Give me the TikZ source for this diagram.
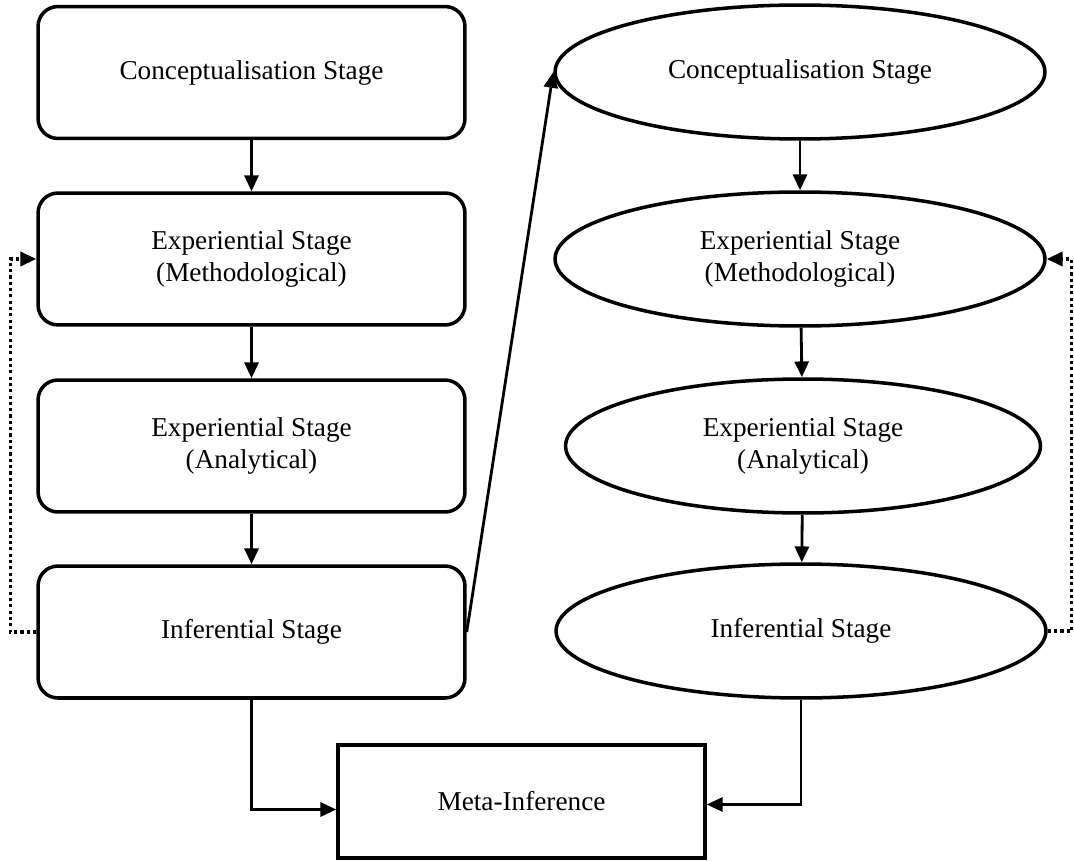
\documentclass[tikz,border=0pt]{standalone}
\usepackage{fontspec}
\setmainfont{Liberation Serif}
\usetikzlibrary{shapes.geometric,arrows.meta}

\begin{document}
\begin{tikzpicture}[x=0.02cm,y=-0.02cm,
  >={Triangle[length=9pt,width=8pt]},
  every node/.style={font=\fontsize{15.5}{18.7}\selectfont,align=center},
  stagebox/.style={draw,line width=2pt,rounded corners=0.4cm,minimum width=8.54cm,minimum height=2.64cm},
  stageoval/.style={draw,ellipse,line width=2pt,minimum width=9.8cm,minimum height=2.68cm,inner sep=0pt},
  link/.style={line width=1.6pt},
  back/.style={line width=1.8pt,dash pattern=on 1.8pt off 1.8pt}]
\useasboundingbox (0,0) rectangle (1074,861);
% Left column:
\node (Lconc) [stagebox] at (251.5,72.5) {Conceptualisation Stage};
\node (Lmeth) [stagebox] at (251.5,259) {Experiential Stage\\(Methodological)};
\node (Lanal) [stagebox] at (251.5,446) {Experiential Stage\\(Analytical)};
\node (Linf) [stagebox] at (251.5,632) {Inferential Stage};
% Right column:
\node (Rconc) [stageoval] at (800,72) {Conceptualisation Stage};
\node (Rmeth) [stageoval] at (800,259) {Experiential Stage\\(Methodological)};
\node (Ranal) [stageoval,minimum width=9.5cm] at (803,446) {Experiential Stage\\(Analytical)};
\node (Rinf) [stageoval] at (801,631) {Inferential Stage};
\node (Meta) [draw,line width=2pt,minimum width=7.34cm,minimum height=2.26cm] at (521.5,801.5) {Meta-Inference};
% Arrows:
\draw [link,->] (Lconc) -- (Lmeth);
\draw [link,->] (Lmeth) -- (Lanal);
\draw [link,->] (Lanal) -- (Linf);
\draw [link,->] (Rconc) -- (Rmeth);
\draw [link,->] (Rmeth) -- (Ranal);
\draw [link,->] (Ranal) -- (Rinf);
\draw [link,->] (Linf.east) -- (Rconc.west);
\draw [link,->] (Linf.south) |- ([yshift=-0.16cm]Meta.west);
\draw [link,->] (Rinf.south) |- ([yshift=-0.06cm]Meta.east);
\draw [back,->] (Linf.west) -- ++(-26,0) |- (Lmeth.west);
\draw [back,->] (Rinf.east) -- ++(24,0) |- (Rmeth.east);
\end{tikzpicture}
\end{document}
